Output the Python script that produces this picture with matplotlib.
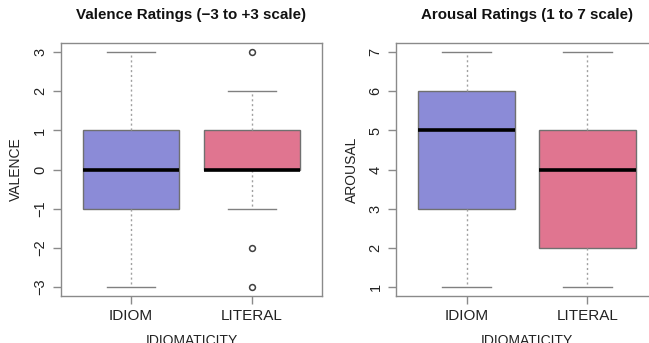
import matplotlib
matplotlib.use('Agg')
import matplotlib.pyplot as plt

plt.rcParams['font.family'] = ['Liberation Sans', 'DejaVu Sans']

groups = ['IDIOM', 'LITERAL']
fills = ['#8b8bd7', '#e07590']

# valence: (whislo, q1, med, q3, whishi), outliers
val_stats = [(-3, -1, 0, 1, 3), (-1, 0, 0, 1, 2)]
val_fliers = [[], [3, -2, -3]]
val_ticks = [-3, -2, -1, 0, 1, 2, 3]

aro_stats = [(1, 3, 5, 6, 7), (1, 2, 4, 5, 7)]
aro_fliers = [[], []]
aro_ticks = [1, 2, 3, 4, 5, 6, 7]

fig = plt.figure(figsize=(6.49, 3.43), dpi=100)
ax1 = fig.add_axes([61 / 649, 47 / 343, 261 / 649, 253 / 343])
ax2 = fig.add_axes([396.5 / 649, 47 / 343, 261 / 649, 253 / 343])


def draw(ax, stats, fliers, ticks, title, ylabel):
    bx = []
    for s, f, lab in zip(stats, fliers, groups):
        bx.append(dict(whislo=s[0], q1=s[1], med=s[2], q3=s[3], whishi=s[4],
                       fliers=f, label=lab))
    res = ax.bxp(bx, positions=[1, 2], widths=0.8, patch_artist=True,
                 boxprops=dict(edgecolor='#707070', linewidth=1),
                 whiskerprops=dict(color='#a0a0a0', linestyle=(0, (1.5, 2)), linewidth=1),
                 capprops=dict(color='#808080', linewidth=1),
                 medianprops=dict(color='black', linewidth=2.6, solid_capstyle='butt'),
                 flierprops=dict(marker='o', markersize=4.2, markerfacecolor='none',
                                 markeredgecolor='#404040', markeredgewidth=1.1),
                 capwidths=0.4)
    for patch, c in zip(res['boxes'], fills):
        patch.set_facecolor(c)
    lo, hi = ticks[0], ticks[-1]
    pad = (hi - lo) * 0.04
    ax.set_ylim(lo - pad, hi + pad)
    ax.set_xlim(0.42, 2.58)
    ax.set_yticks(ticks)
    ax.set_yticklabels([str(t).replace('-', '\u2212') for t in ticks],
                       rotation=90, va='center', fontsize=10.5)
    ax.set_xticks([1, 2])
    ax.set_xticklabels(groups, fontsize=11)
    for sp in ax.spines.values():
        sp.set_color('#8a8a8a')
        sp.set_linewidth(1)
    ax.tick_params(colors='#8a8a8a', labelcolor='#222222', length=6, width=1)
    ax.tick_params(axis='y', pad=4)
    ax.set_title(title, fontsize=10.9, fontweight='bold', pad=17, color='#111111')
    ax.set_ylabel(ylabel, fontsize=10, color='#222222', labelpad=7)
    ax.set_xlabel('IDIOMATICITY', fontsize=10, color='#222222', labelpad=8)


draw(ax1, val_stats, val_fliers, val_ticks, 'Valence Ratings (\u22123 to +3 scale)', 'VALENCE')
draw(ax2, aro_stats, aro_fliers, aro_ticks, 'Arousal Ratings (1 to 7 scale)', 'AROUSAL')

fig.savefig('out.png', dpi=100, facecolor='white')
